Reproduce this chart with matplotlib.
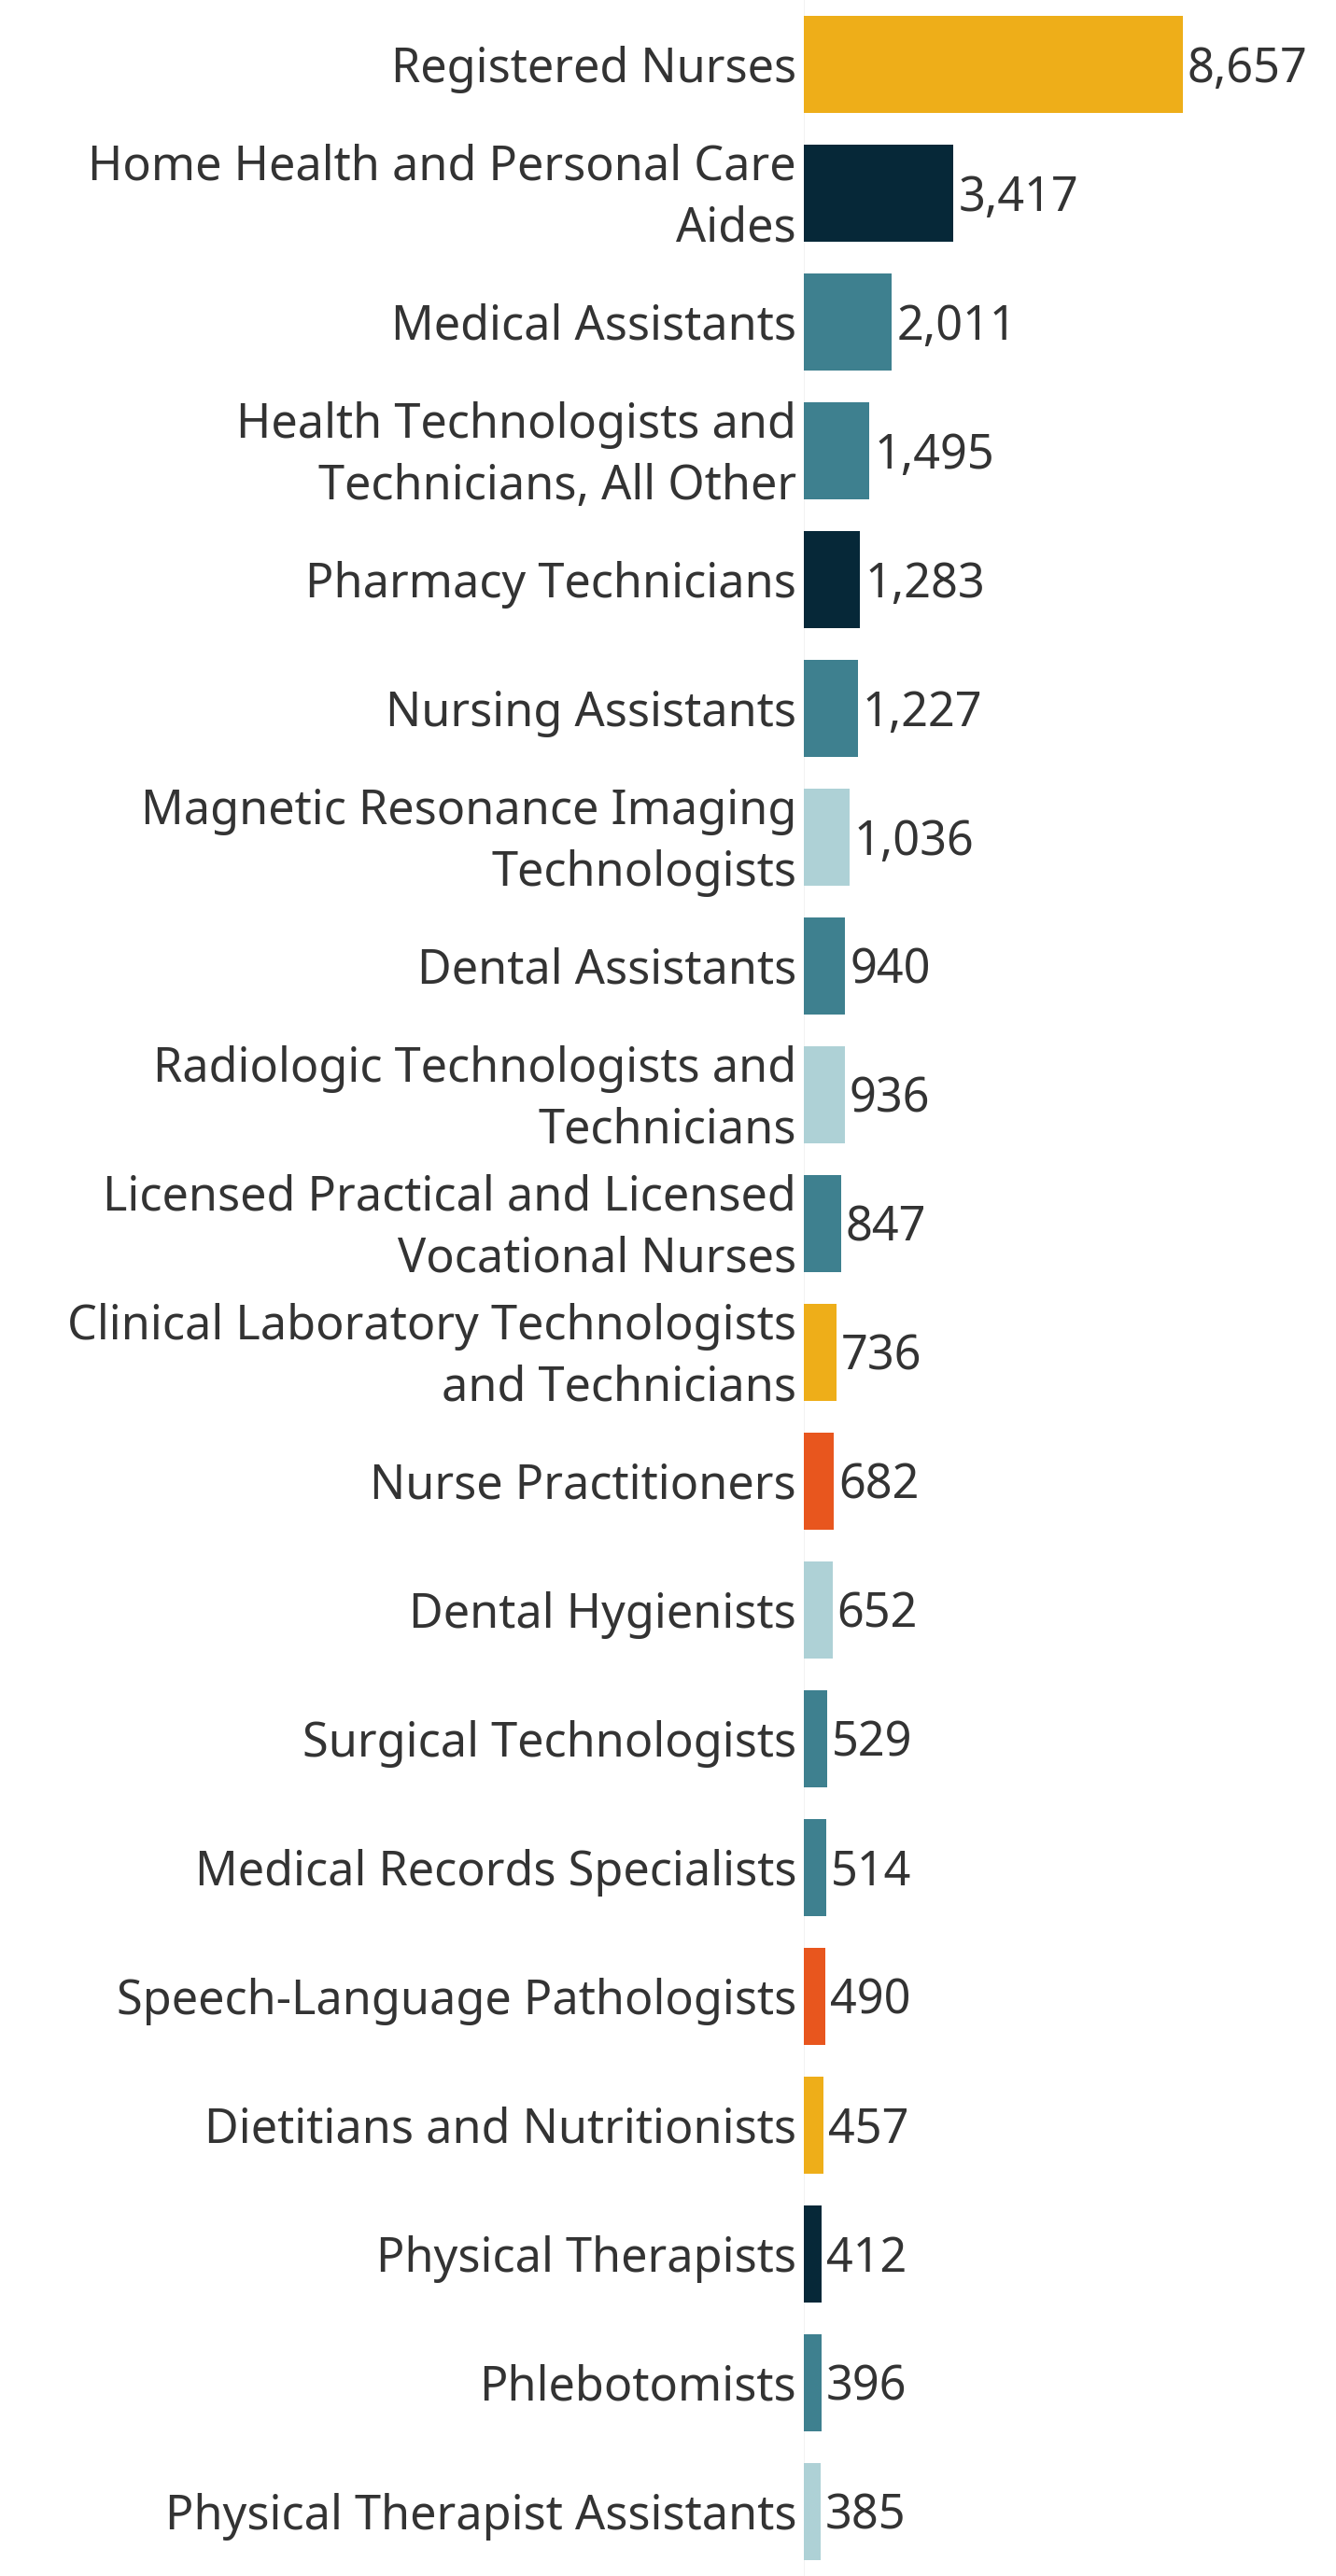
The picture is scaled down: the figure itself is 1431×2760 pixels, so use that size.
import matplotlib.pyplot as plt

# =========================
# DATA
# =========================
occupations = [
    "Registered Nurses",
    "Home Health and Personal Care\nAides",
    "Medical Assistants",
    "Health Technologists and\nTechnicians, All Other",
    "Pharmacy Technicians",
    "Nursing Assistants",
    "Magnetic Resonance Imaging\nTechnologists",
    "Dental Assistants",
    "Radiologic Technologists and\nTechnicians",
    "Licensed Practical and Licensed\nVocational Nurses",
    "Clinical Laboratory Technologists\nand Technicians",
    "Nurse Practitioners",
    "Dental Hygienists",
    "Surgical Technologists",
    "Medical Records Specialists",
    "Speech-Language Pathologists",
    "Dietitians and Nutritionists",
    "Physical Therapists",
    "Phlebotomists",
    "Physical Therapist Assistants",
]
postings = [8657, 3417, 2011, 1495, 1283, 1227, 1036, 940, 936, 847,
            736, 682, 652, 529, 514, 490, 457, 412, 396, 385]
groups = ["gold", "navy", "teal", "teal", "navy", "teal", "light", "teal", "light", "teal",
          "gold", "orange", "light", "teal", "teal", "orange", "gold", "navy", "teal", "light"]

# =========================
# STYLE
# =========================
palette = {
    "gold": "#EEAE19",
    "navy": "#062838",
    "teal": "#3E808F",
    "light": "#AED1D6",
    "orange": "#E8561E",
}
TEXT = "#333333"
FONT = ["Noto Sans", "DejaVu Sans"]
plt.rcParams["font.family"] = FONT

W, H, DPI = 1431, 2760, 100
fig = plt.figure(figsize=(W / DPI, H / DPI), dpi=DPI)

# axes starts at the zero line, spans the full height
x0 = 861
px_per_unit = 406 / 8657
ax = fig.add_axes([x0 / W, 0, (W - x0) / W, 1])
ax.set_xlim(0, (W - x0) / px_per_unit)
ax.set_ylim(len(postings) - 0.5, -0.5)
ax.axis("off")

ax.axvline(0, color="#f0f0f0", lw=1.2, zorder=0)

ypos = list(range(len(postings)))
ax.barh(ypos, postings, height=0.754, color=[palette[g] for g in groups], zorder=2)

pt = 72 / DPI  # pixels -> points
fs = 50.4 * pt
base = 19 * pt     # baseline below bar centre
gap = 66 * pt      # line spacing

for y, name, v in zip(ypos, occupations, postings):
    lines = name.split("\n")
    n = len(lines)
    for k, line in enumerate(lines):
        dy = -(base + (k - (n - 1) / 2) * gap)
        ax.annotate(line, xy=(0, y), xytext=(-8 * pt, dy), textcoords="offset points",
                    ha="right", va="baseline", fontsize=fs, color=TEXT, annotation_clip=False)
    ax.annotate(f"{v:,}", xy=(v, y), xytext=(5 * pt, -base), textcoords="offset points",
                ha="left", va="baseline", fontsize=fs, color=TEXT, annotation_clip=False)

fig.savefig("out.png", dpi=DPI, facecolor="white")
